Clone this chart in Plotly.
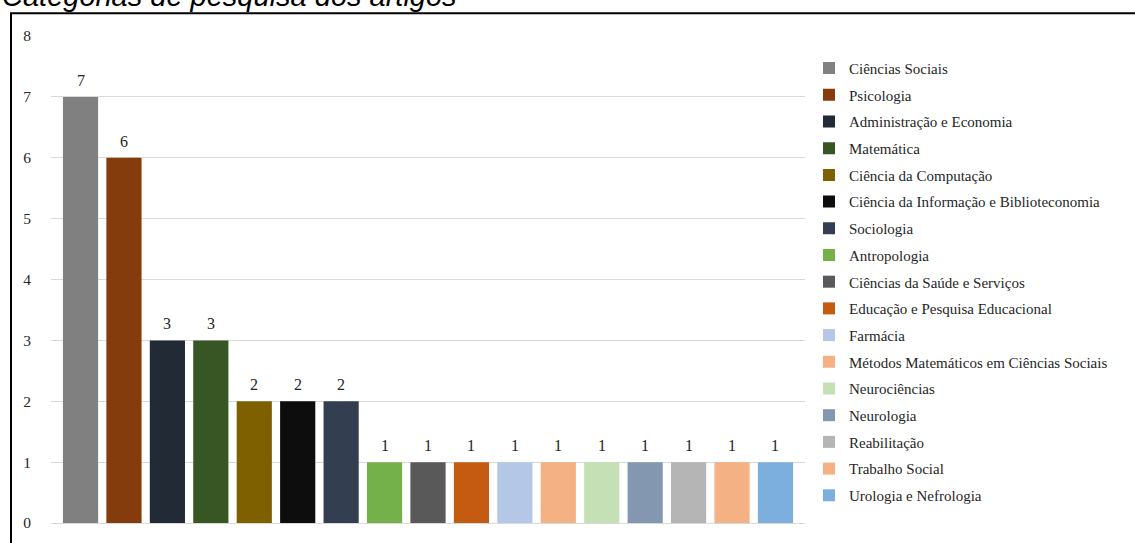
import plotly.graph_objects as go

categories = [
    "Ciências Sociais", "Psicologia", "Administração e Economia", "Matemática",
    "Ciência da Computação", "Ciência da Informação e Biblioteconomia", "Sociologia",
    "Antropologia", "Ciências da Saúde e Serviços", "Educação e Pesquisa Educacional",
    "Farmácia", "Métodos Matemáticos em Ciências Sociais", "Neurociências",
    "Neurologia", "Reabilitação", "Trabalho Social", "Urologia e Nefrologia",
]
values = [7, 6, 3, 3, 2, 2, 2, 1, 1, 1, 1, 1, 1, 1, 1, 1, 1]
colors = [
    "#808080", "#843C0C", "#222A35", "#375623", "#7F6000", "#0D0D0D", "#333F50",
    "#75B14A", "#595959", "#C55A11", "#B4C7E7", "#F4B183", "#C5E0B4", "#8497B0",
    "#B5B5B5", "#F4B183", "#7CAEDE",
]
y_ticks = list(range(0, 9))
title_text = "Categorias de pesquisa dos artigos"

W, H = 1135, 543
L, R, T, B = 51, 805, 36, 528
pw, ph = R - L, B - T

def px_x(p):
    return (p - L) / pw

def px_y(p):
    return (B - p) / ph

SERIF = "Liberation Serif, Times New Roman, serif"

fig = go.Figure()
for cat, val, col in zip(categories, values, colors):
    fig.add_trace(go.Bar(
        x=[cat], y=[val], name=cat, legendgroup=cat,
        marker=dict(color=col, line=dict(width=0)),
        hovertemplate="%{x}: %{y}<extra></extra>",
    ))

# value labels, placed through the data axes
label_annotations = [
    dict(
        x=cat, y=val, xref="x", yref="y", text=str(val),
        showarrow=False, xanchor="center", yanchor="bottom", yshift=6,
        font=dict(family=SERIF, size=16, color="#262626"),
    )
    for cat, val in zip(categories, values)
]

fig.update_layout(
    width=W, height=H,
    margin=dict(l=L, r=W - R, t=T, b=H - B, pad=0),
    paper_bgcolor="white", plot_bgcolor="white",
    barmode="relative", bargap=0.19,
    showlegend=True,
    legend=dict(
        x=px_x(809), xanchor="left", y=px_y(52), yanchor="top",
        font=dict(family=SERIF, size=15, color="#262626"),
        tracegroupgap=4.2, traceorder="grouped",
        bgcolor="rgba(0,0,0,0)",
    ),
    xaxis=dict(
        type="category", categoryorder="array", categoryarray=categories,
        range=[-0.68, len(categories) - 1 + 0.68],
        showticklabels=False, showgrid=False, zeroline=False, showline=False,
        ticks="",
    ),
    yaxis=dict(
        range=[0, 8], tickvals=y_ticks, ticktext=[str(v) for v in y_ticks],
        showgrid=True, gridcolor="#D9D9D9", gridwidth=1,
        zeroline=True, zerolinecolor="#D9D9D9", zerolinewidth=1,
        showline=False, ticks="",
        tickfont=dict(family=SERIF, size=15.5, color="#262626"),
        ticklabelstandoff=19,
    ),
    shapes=[dict(
        type="rect", xref="paper", yref="paper",
        x0=px_x(11), x1=px_x(1145), y0=px_y(555), y1=px_y(13),
        line=dict(color="black", width=2), fillcolor="rgba(0,0,0,0)", layer="above",
    )],
    annotations=[dict(
        text=title_text, xref="paper", yref="paper",
        x=px_x(0), xanchor="left", y=px_y(14), yanchor="bottom",
        showarrow=False,
        font=dict(family="Liberation Sans, Arial, sans-serif", size=29, color="black",
                  style="italic"),
    )] + label_annotations,
)

fig.write_html("out.html")
